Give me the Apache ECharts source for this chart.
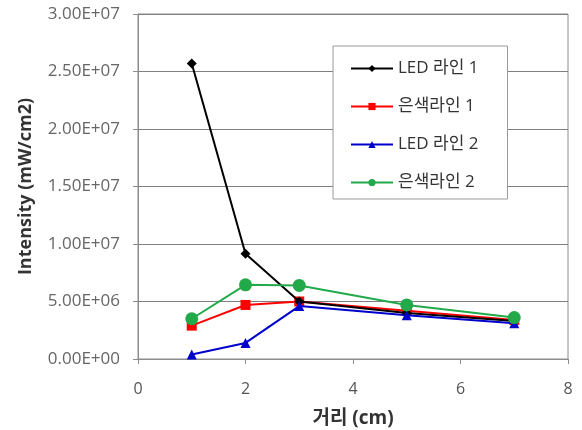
<!DOCTYPE html>
<html><head><meta charset="utf-8">
<script src="https://cdn.jsdelivr.net/npm/echarts@6/dist/echarts.min.js"></script>
<style>html,body{margin:0;padding:0;background:#fff}#c{width:582px;height:430px}</style>
</head><body><div id="c"></div>
<script>
const xValues = [1, 2, 3, 5, 7];
const seriesNames = ['LED 라인 1', '은색라인 1', 'LED 라인 2', '은색라인 2'];
const led1 = [25.7e6, 9.15e6, 5.0e6, 4.0e6, 3.3e6];
const silver1 = [2.9e6, 4.7e6, 5.0e6, 4.2e6, 3.4e6];
const led2 = [0.4e6, 1.4e6, 4.6e6, 3.8e6, 3.1e6];
const silver2 = [3.5e6, 6.45e6, 6.4e6, 4.7e6, 3.6e6];
const yTicks = {min: 0, max: 3e7, interval: 5e6};
const xTicks = {min: 0, max: 8, interval: 2};

function sci(v) {
  if (v === 0) return '0.00E+00';
  const e = Math.floor(Math.log10(Math.abs(v)) + 1e-9);
  const m = (v / Math.pow(10, e)).toFixed(2);
  return m + 'E+' + String(e).padStart(2, '0');
}
const pairs = arr => xValues.map((x, i) => [x, arr[i]]);
const font = '"Open Sans","Noto Sans CJK KR",sans-serif';
const styles = [
  {c: '#000000', s: 'diamond', z: 10},
  {c: '#ff0000', s: 'rect', z: 9},
  {c: '#0000cc', s: 'triangle', z: 10},
  {c: '#22aa4a', s: 'circle', z: 13}
];
const data = [led1, silver1, led2, silver2];

const chart = echarts.init(document.getElementById('c'));
chart.setOption({
  animation: false,
  grid: {left: 138, right: 14, top: 14, bottom: 71, outerBoundsMode: 'none', containLabel: false,
         show: true, borderColor: '#8c8c8c', borderWidth: 1},
  legend: {
    orient: 'vertical', left: 333, top: 46,
    itemWidth: 42, itemHeight: 9, itemGap: 21,
    padding: [14, 29, 8, 17],
    borderColor: '#9a9a9a', borderWidth: 1, backgroundColor: '#fff',
    textStyle: {fontFamily: font, fontSize: 17, color: '#333'},
    data: seriesNames
  },
  xAxis: {
    type: 'value', min: xTicks.min, max: xTicks.max, interval: xTicks.interval,
    name: '거리 (cm)', nameLocation: 'middle', nameGap: 50,
    nameTextStyle: {fontFamily: font, fontSize: 19, fontWeight: 'bold', color: '#333'},
    axisLine: {lineStyle: {color: '#8c8c8c'}},
    axisTick: {show: true, length: 5, lineStyle: {color: '#8c8c8c'}},
    axisLabel: {fontFamily: font, fontSize: 16, color: '#555', margin: 22},
    splitLine: {show: false}
  },
  yAxis: {
    type: 'value', min: yTicks.min, max: yTicks.max, interval: yTicks.interval,
    name: 'Intensity (mW/cm2)', nameLocation: 'middle', nameGap: 103,
    nameTextStyle: {fontFamily: font, fontSize: 18, fontWeight: 'bold', color: '#333'},
    axisLine: {show: true, lineStyle: {color: '#8c8c8c'}},
    axisTick: {show: true, length: 5, lineStyle: {color: '#8c8c8c'}},
    axisLabel: {fontFamily: font, fontSize: 17, color: '#666', margin: 18, formatter: sci},
    splitLine: {lineStyle: {color: '#808080', width: 1}}
  },
  series: seriesNames.map((n, i) => ({
    name: n, type: 'line', data: pairs(data[i]),
    symbol: styles[i].s, symbolSize: i === 3 ? 13 : 10,
    z: styles[i].z,
    lineStyle: {color: styles[i].c, width: 2},
    itemStyle: {color: styles[i].c}
  }))
});
</script></body></html>
